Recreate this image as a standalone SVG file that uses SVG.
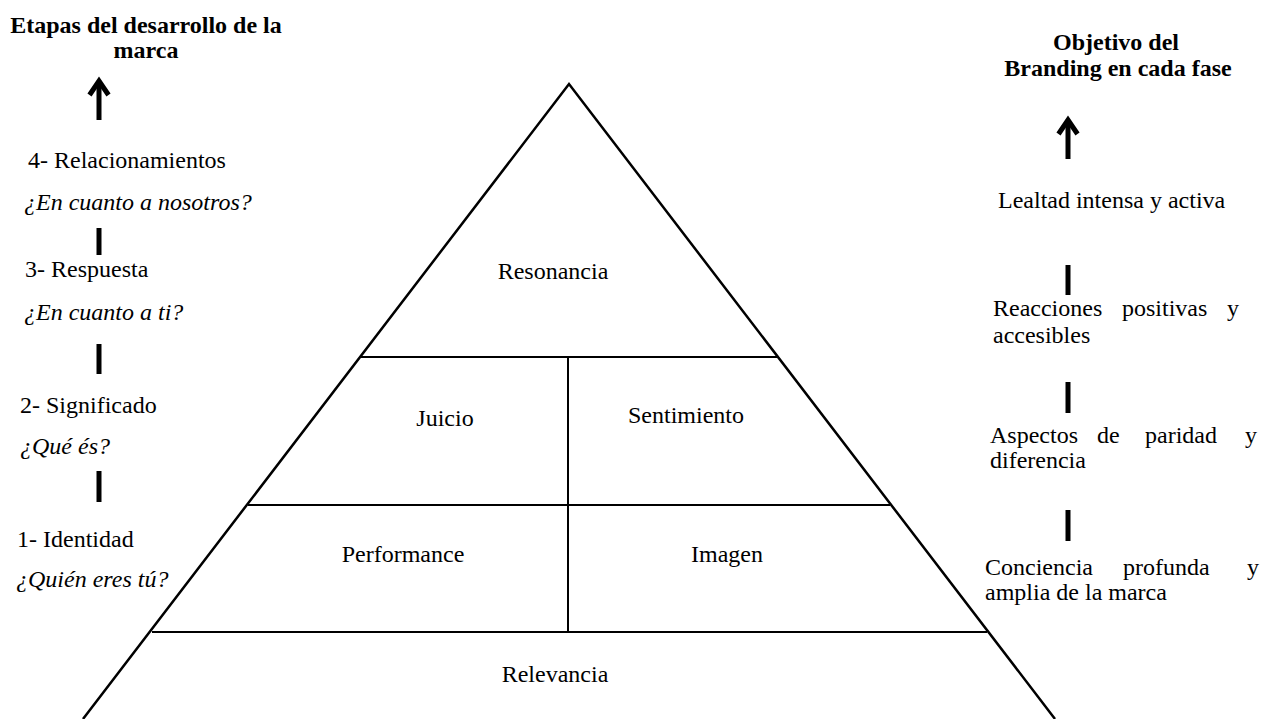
<svg xmlns="http://www.w3.org/2000/svg" width="1270" height="719" viewBox="0 0 1270 719" font-family="'Liberation Serif', 'DejaVu Serif', serif">
  <style>
    text { font-family: 'Liberation Serif', 'DejaVu Serif', serif; font-size: 24px; font-weight: 400; fill: #000; }
    .title { font-weight: 700; text-anchor: middle; }
    .mid { text-anchor: middle; }
    .q { font-style: italic; }
    .edge { stroke: #000; stroke-width: 2.5; fill: none; stroke-linejoin: miter; }
    .div { stroke: #000; stroke-width: 2; fill: none; }
    .bar { stroke: #000; stroke-width: 5; fill: none; }
    .arrow { stroke: #000; stroke-width: 5; fill: none; stroke-linecap: butt; stroke-linejoin: miter; }
  </style>
  <defs>
    <g id="up-arrow">
      <line class="arrow" x1="0" y1="43" x2="0" y2="4"/>
      <polyline class="arrow" points="-9.5,18 0,4 9.5,18"/>
    </g>
  </defs>
  <rect width="1270" height="719" fill="#fff"/>

  <!-- Pyramid outline and internal divisions -->
  <g id="pyramid">
    <polyline class="edge" points="83,719 569,84 1055,719"/>
    <line class="div" x1="361" y1="357" x2="777" y2="357"/>
    <line class="div" x1="248" y1="505" x2="890" y2="505"/>
    <line class="div" x1="152" y1="632" x2="987" y2="632"/>
    <line class="div" x1="568" y1="357" x2="568" y2="632"/>
  </g>

  <g id="level-resonancia"><text class="mid" x="553" y="279">Resonancia</text></g>
  <g id="level-juicio"><text class="mid" x="445" y="426">Juicio</text></g>
  <g id="level-sentimiento"><text class="mid" x="686" y="423">Sentimiento</text></g>
  <g id="level-performance"><text class="mid" x="403" y="562">Performance</text></g>
  <g id="level-imagen"><text class="mid" x="727" y="562">Imagen</text></g>
  <g id="level-relevancia"><text class="mid" x="555" y="682">Relevancia</text></g>

  <!-- Left column: brand development stages -->
  <g id="stages-title">
    <text class="title" x="146" y="33">Etapas del desarrollo de la</text>
    <text class="title" x="146" y="58">marca</text>
  </g>
  <g id="stage-4">
    <text x="28" y="168">4- Relacionamientos</text>
    <text class="q" x="24" y="210">¿En cuanto a nosotros?</text>
  </g>
  <g id="stage-3">
    <text x="25" y="277">3- Respuesta</text>
    <text class="q" x="24" y="320">¿En cuanto a ti?</text>
  </g>
  <g id="stage-2">
    <text x="20" y="413">2- Significado</text>
    <text class="q" x="20" y="454">¿Qué és?</text>
  </g>
  <g id="stage-1">
    <text x="17" y="547">1- Identidad</text>
    <text class="q" x="16" y="587">¿Quién eres tú?</text>
  </g>

  <!-- Right column: branding objective per phase -->
  <g id="objectives-title">
    <text class="title" x="1116" y="50">Objetivo del</text>
    <text class="title" x="1118" y="76">Branding en cada fase</text>
  </g>
  <g id="objective-4">
    <text x="998" y="208">Lealtad intensa y activa</text>
  </g>
  <g id="objective-3">
    <text y="316"><tspan x="993">Reacciones</tspan><tspan x="1122">positivas</tspan><tspan x="1227">y</tspan></text>
    <text x="993" y="343">accesibles</text>
  </g>
  <g id="objective-2">
    <text y="443"><tspan x="990">Aspectos</tspan><tspan x="1097">de</tspan><tspan x="1145">paridad</tspan><tspan x="1245">y</tspan></text>
    <text x="990" y="468">diferencia</text>
  </g>
  <g id="objective-1">
    <text y="575"><tspan x="985">Conciencia</tspan><tspan x="1123">profunda</tspan><tspan x="1247">y</tspan></text>
    <text x="985" y="600">amplia de la marca</text>
  </g>

  <!-- Connectors: upward arrows and separator bars -->
  <g id="connectors">
    <use href="#up-arrow" x="99" y="77"/>
    <line class="bar" x1="99" y1="228" x2="99" y2="255"/>
    <line class="bar" x1="99" y1="344" x2="99" y2="374"/>
    <line class="bar" x1="99" y1="471" x2="99" y2="502"/>

    <use href="#up-arrow" x="1068" y="116"/>
    <line class="bar" x1="1068" y1="265" x2="1068" y2="295"/>
    <line class="bar" x1="1068" y1="382" x2="1068" y2="413"/>
    <line class="bar" x1="1068" y1="510" x2="1068" y2="541"/>
  </g>
</svg>
